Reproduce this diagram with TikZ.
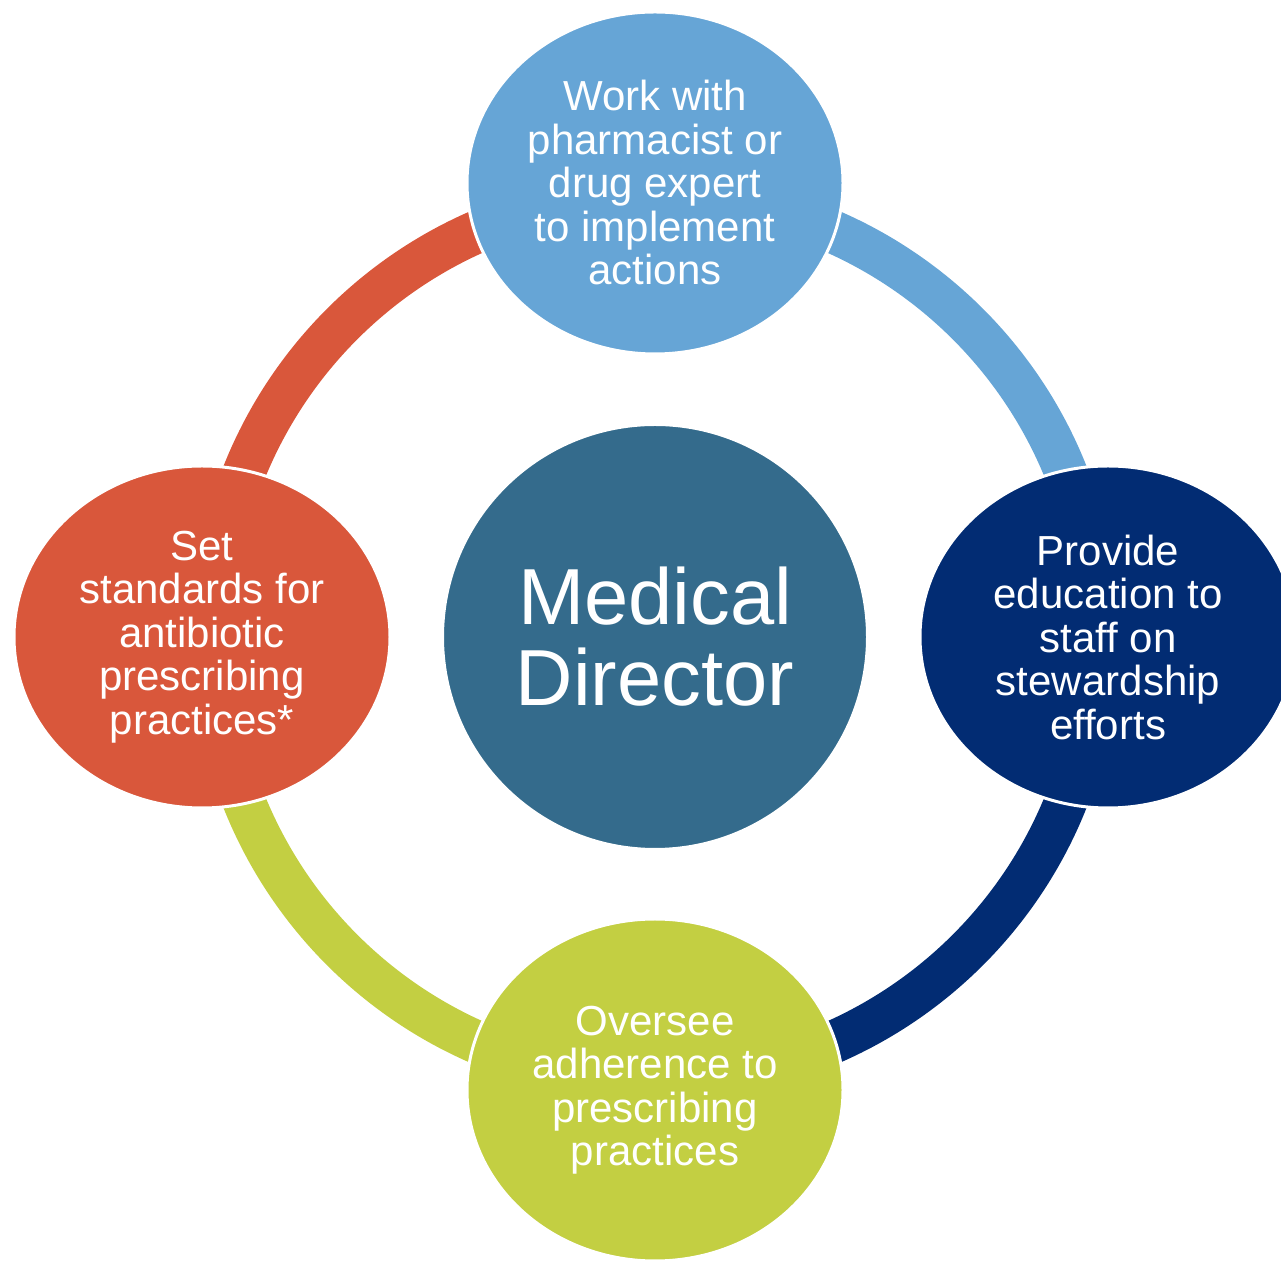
\documentclass[tikz,border=0pt]{standalone}
\usepackage{fontspec}
\setmainfont{Liberation Sans}
\usetikzlibrary{calc,backgrounds,shapes.geometric}

\definecolor{skyblue}{RGB}{102,165,214}
\definecolor{navyblue}{RGB}{2,44,115}
\definecolor{limegreen}{RGB}{195,207,66}
\definecolor{brickred}{RGB}{217,87,59}
\definecolor{steelblue}{RGB}{52,107,140}

\tikzset{
	duty/.style={ellipse, minimum width=376, minimum height=342, inner sep=0pt,
		draw=white, line width=3pt, text=white, align=center,
		font=\fontsize{42}{43.5}\selectfont},
	director/.style={circle, minimum size=425, inner sep=0pt,
		draw=white, line width=3pt, fill=steelblue, text=white, align=center,
		font=\fontsize{79.5}{81}\selectfont},
	ring/.style={line width=43pt, draw=#1}
}

\begin{document}
\begin{tikzpicture}[x=1pt,y=1pt]
	\useasboundingbox (0,0) rectangle (1281,1260);
	\clip (0,0) rectangle (1281,1260);
	
	\coordinate (m1) at (655,623);
	
	%center
	\node[director] (md) at (m1) {Medical\\Director};
	
	%duties around the ring
	\node[duty, fill=skyblue] (work) at (655,1077) {Work with\\pharmacist or\\drug expert\\to implement\\actions};
	\node[duty, fill=navyblue] (educ) at (1108,623) {Provide\\education to\\staff on\\stewardship\\efforts};
	\node[duty, fill=limegreen] (over) at (655,170) {Oversee\\adherence to\\prescribing\\practices};
	\node[duty, fill=brickred] (stan) at (202,623) {Set\\standards for\\antibiotic\\prescribing\\practices*};
	
	%ring segments, behind the ellipses
	\begin{pgfonlayer}{background}
		\foreach \a/\c in {90/skyblue, 0/navyblue, -90/limegreen, 180/brickred}{
			\coordinate (k\a) at ($(m1)+(\a:442.5)$);
			\draw[ring=\c] (k\a) arc[radius=442.5, start angle=\a, end angle=\a-90];
		}
	\end{pgfonlayer}
	
\end{tikzpicture}
\end{document}
